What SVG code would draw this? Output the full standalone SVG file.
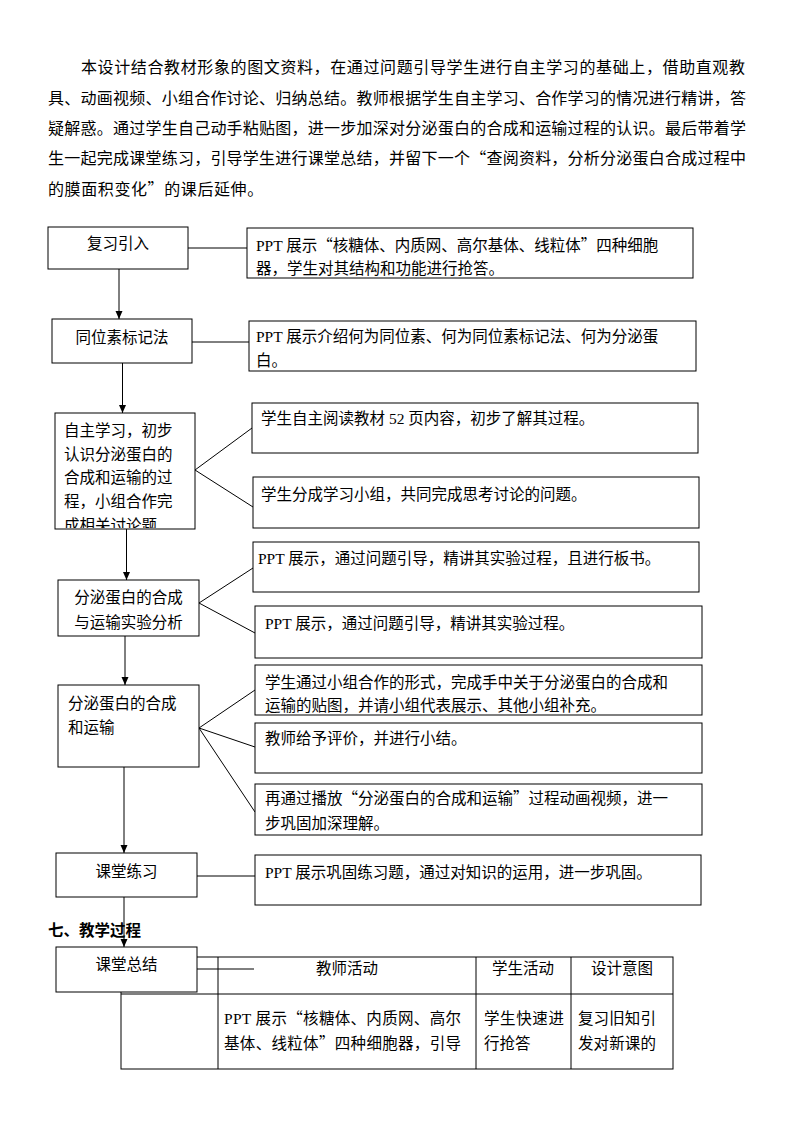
<svg xmlns="http://www.w3.org/2000/svg" width="794" height="1123" viewBox="0 0 794 1123">
<style>
text{font-family:"Liberation Serif","Noto Sans CJK SC",serif;fill:#000}
.q{font-family:"Noto Sans CJK SC",sans-serif}
.p{font-size:16px}
.t{font-size:15.5px}
.c{text-anchor:middle}
.box{fill:#fff;stroke:#000;stroke-width:1}
.ln{stroke:#000;stroke-width:1;fill:none}
.h{font-size:15.5px;font-weight:bold}
</style>
<defs>
<marker id="ah" markerWidth="9" markerHeight="8" refX="8" refY="3.5" orient="auto" markerUnits="userSpaceOnUse">
<path d="M0,0 L8,3.5 L0,7 Z" fill="#000"/>
</marker>
<clipPath id="clip3"><rect x="55" y="413" width="140" height="115"/></clipPath>
</defs>
<rect width="794" height="1123" fill="#fff"/>

<g id="intro">
<text class="p" x="81" y="73" textLength="664" lengthAdjust="spacing">本设计结合教材形象的图文资料，在通过问题引导学生进行自主学习的基础上，借助直观教</text>
<text class="p" x="48" y="104" textLength="698" lengthAdjust="spacing">具、动画视频、小组合作讨论、归纳总结。教师根据学生自主学习、合作学习的情况进行精讲，答</text>
<text class="p" x="48" y="134" textLength="698" lengthAdjust="spacing">疑解惑。通过学生自己动手粘贴图，进一步加深对分泌蛋白的合成和运输过程的认识。最后带着学</text>
<text class="p" x="48" y="164" textLength="698" lengthAdjust="spacing">生一起完成课堂练习，引导学生进行课堂总结，并留下一个<tspan class="q">“</tspan>查阅资料，分析分泌蛋白合成过程中</text>
<text class="p" x="48" y="195" letter-spacing="0.6">的膜面积变化<tspan class="q">”</tspan>的课后延伸。</text>
</g>

<g id="table">
<rect class="ln" x="121" y="957" width="552" height="112"/>
<line class="ln" x1="121" y1="994" x2="673" y2="994"/>
<line class="ln" x1="218" y1="957" x2="218" y2="1069"/>
<line class="ln" x1="476" y1="957" x2="476" y2="1069"/>
<line class="ln" x1="571" y1="957" x2="571" y2="1069"/>
<text class="t c" x="347" y="974">教师活动</text>
<text class="t c" x="523" y="974">学生活动</text>
<text class="t c" x="622" y="974">设计意图</text>
<text class="t" x="224" y="1024" textLength="237" lengthAdjust="spacing">PPT 展示<tspan class="q">“</tspan>核糖体、内质网、高尔</text>
<text class="t" x="224" y="1049" textLength="237" lengthAdjust="spacing">基体、线粒体<tspan class="q">”</tspan>四种细胞器，引导</text>
<text class="t" x="484" y="1024" textLength="80" lengthAdjust="spacing">学生快速进</text>
<text class="t" x="484" y="1049">行抢答</text>
<text class="t" x="578" y="1024" textLength="78" lengthAdjust="spacing">复习旧知引</text>
<text class="t" x="578" y="1049" textLength="78" lengthAdjust="spacing">发对新课的</text>
</g>

<text id="heading" class="h" x="48" y="936">七、教学过程</text>

<g id="connectors">
<line class="ln" x1="119" y1="269" x2="119" y2="319" marker-end="url(#ah)"/>
<line class="ln" x1="188" y1="248" x2="247" y2="248"/>
<line class="ln" x1="122.5" y1="363" x2="122.5" y2="413" marker-end="url(#ah)"/>
<line class="ln" x1="192" y1="342" x2="249" y2="342"/>
<line class="ln" x1="126.5" y1="529" x2="126.5" y2="580" marker-end="url(#ah)"/>
<line class="ln" x1="195" y1="470" x2="252" y2="428"/>
<line class="ln" x1="195" y1="470" x2="253" y2="507"/>
<line class="ln" x1="125" y1="636" x2="125" y2="685" marker-end="url(#ah)"/>
<line class="ln" x1="199" y1="603" x2="253" y2="568"/>
<line class="ln" x1="199" y1="603" x2="255" y2="633"/>
<line class="ln" x1="124" y1="767" x2="124" y2="853" marker-end="url(#ah)"/>
<line class="ln" x1="199" y1="728" x2="255" y2="690"/>
<line class="ln" x1="199" y1="728" x2="255" y2="747"/>
<line class="ln" x1="199" y1="728" x2="255" y2="812"/>
<line class="ln" x1="124" y1="897" x2="124" y2="947" marker-end="url(#ah)"/>
<line class="ln" x1="197" y1="876" x2="255" y2="876"/>
</g>

<g id="n1">
<rect class="box" x="48" y="227" width="140" height="42"/>
<text class="t c" x="118" y="249">复习引入</text>
</g>
<g id="n1r">
<rect class="box" x="247" y="228" width="446" height="50"/>
<text class="t" x="256" y="251">PPT 展示<tspan class="q">“</tspan>核糖体、内质网、高尔基体、线粒体<tspan class="q">”</tspan>四种细胞</text>
<text class="t" x="256" y="274">器，学生对其结构和功能进行抢答。</text>
</g>

<g id="n2">
<rect class="box" x="52" y="319" width="140" height="44"/>
<text class="t c" x="122" y="343">同位素标记法</text>
</g>
<g id="n2r">
<rect class="box" x="249" y="321" width="447" height="50"/>
<text class="t" x="256" y="342">PPT 展示介绍何为同位素、何为同位素标记法、何为分泌蛋</text>
<text class="t" x="256" y="366">白。</text>
</g>

<g id="n3">
<rect class="box" x="55" y="413" width="140" height="116"/>
<g clip-path="url(#clip3)">
<text class="t" x="64" y="436">自主学习，初步</text>
<text class="t" x="64" y="460">认识分泌蛋白的</text>
<text class="t" x="64" y="483">合成和运输的过</text>
<text class="t" x="64" y="507">程，小组合作完</text>
<text class="t" x="64" y="531">成相关讨论题</text>
</g>
</g>
<g id="n3a">
<rect class="box" x="252" y="403" width="446" height="50"/>
<text class="t" x="261" y="424">学生自主阅读教材 52 页内容，初步了解其过程。</text>
</g>
<g id="n3b">
<rect class="box" x="253" y="477" width="446" height="51"/>
<text class="t" x="261" y="500">学生分成学习小组，共同完成思考讨论的问题。</text>
</g>

<g id="n4">
<rect class="box" x="58" y="580" width="141" height="56"/>
<text class="t c" x="128.5" y="603">分泌蛋白的合成</text>
<text class="t c" x="128.5" y="628">与运输实验分析</text>
</g>
<g id="n4a">
<rect class="box" x="253" y="542" width="446" height="50"/>
<text class="t" x="258" y="564">PPT 展示，通过问题引导，精讲其实验过程，且进行板书。</text>
</g>
<g id="n4b">
<rect class="box" x="255" y="606" width="447" height="52"/>
<text class="t" x="265" y="629">PPT 展示，通过问题引导，精讲其实验过程。</text>
</g>

<g id="n5">
<rect class="box" x="58" y="685" width="141" height="82"/>
<text class="t" x="68" y="709">分泌蛋白的合成</text>
<text class="t" x="68" y="733">和运输</text>
</g>
<g id="n5a">
<rect class="box" x="255" y="665" width="447" height="50"/>
<text class="t" x="265" y="688">学生通过小组合作的形式，完成手中关于分泌蛋白的合成和</text>
<text class="t" x="265" y="711">运输的贴图，并请小组代表展示、其他小组补充。</text>
</g>
<g id="n5b">
<rect class="box" x="255" y="723" width="447" height="50"/>
<text class="t" x="265" y="744">教师给予评价，并进行小结。</text>
</g>
<g id="n5c">
<rect class="box" x="255" y="784" width="447" height="51"/>
<text class="t" x="265" y="804">再通过播放<tspan class="q">“</tspan>分泌蛋白的合成和运输<tspan class="q">”</tspan>过程动画视频，进一</text>
<text class="t" x="265" y="829">步巩固加深理解。</text>
</g>

<g id="n6">
<rect class="box" x="56" y="853" width="141" height="44"/>
<text class="t c" x="126.5" y="877">课堂练习</text>
</g>
<g id="n6r">
<rect class="box" x="255" y="855" width="446" height="50"/>
<text class="t" x="265" y="878">PPT 展示巩固练习题，通过对知识的运用，进一步巩固。</text>
</g>

<g id="n7">
<rect class="box" x="56" y="947" width="141" height="45"/>
<text class="t c" x="126.5" y="970">课堂总结</text>
</g>
<line class="ln" x1="197" y1="969" x2="254" y2="969"/>
</svg>
